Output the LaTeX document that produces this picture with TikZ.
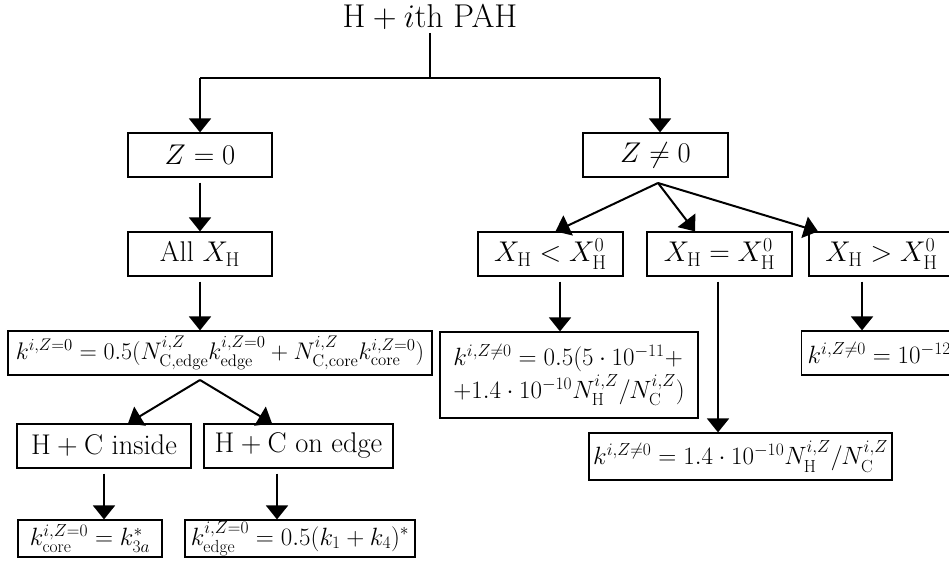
\RequirePackage{fix-cm}
\documentclass[tikz,border=0pt]{standalone}
\usepackage{amsmath}
\usetikzlibrary{arrows.meta,calc}
\begin{document}
\begin{tikzpicture}[x=1pt,y=-1pt,
  box/.style={draw,line width=1.2pt,inner sep=0pt,minimum height=44pt,font=\fontsize{28.5}{34}\selectfont},
  fbox/.style={draw,line width=1.2pt,inner sep=0pt,font=\fontsize{25}{30}\selectfont},
  arr/.style={line width=2pt,-{Triangle[length=14pt,width=22pt]}},
  ln/.style={line width=2pt}]
\useasboundingbox (0,0) rectangle (949,569);
\clip (0,0) rectangle (949,569);
% title
\node[font=\fontsize{33}{40}\selectfont,inner sep=0pt,anchor=base] (title) at (430,28) {$\mathrm{H}+i$th PAH};
% left column
\node[box,minimum width=144pt] (Z0) at (200,155) {$Z=0$};
\node[box,minimum width=144pt] (AllX) at (200,254) {All $X_{\mathrm{H}}$};
\node[fbox,minimum width=424pt,minimum height=44pt,font=\fontsize{24}{29}\selectfont] (kZ0) at (220,353)
  {$k^{i,Z=0}=0.5(N^{i,Z}_{\mathrm{C,edge}}k^{i,Z=0}_{\mathrm{edge}}+N^{i,Z}_{\mathrm{C,core}}k^{i,Z=0}_{\mathrm{core}})$};
\node[box,minimum width=174pt] (HCin) at (104,446) {$\mathrm{H}+\mathrm{C}$ inside};
\node[box,minimum width=189pt] (HCedge) at (298.5,446) {$\mathrm{H}+\mathrm{C}$ on edge};
\node[fbox,minimum width=144pt,minimum height=37pt] (kcore) at (90,538.5) {$k^{i,Z=0}_{\mathrm{core}}=k^{*}_{3a}$};
\node[fbox,minimum width=230pt,minimum height=37pt] (kedge) at (300,538.5) {$k^{i,Z=0}_{\mathrm{edge}}=0.5(k_1+k_4)^{*}$};
% right column
\node[box,minimum width=145pt] (Zn0) at (655.5,155) {$Z\neq0$};
\node[box,minimum width=145pt] (Xlt) at (550.5,254) {$X_{\mathrm{H}}<X^0_{\mathrm{H}}$};
\node[box,minimum width=145pt] (Xeq) at (719.5,254) {$X_{\mathrm{H}}=X^0_{\mathrm{H}}$};
\node[box,minimum width=145pt] (Xgt) at (881.5,254) {$X_{\mathrm{H}}>X^0_{\mathrm{H}}$};
\node[fbox,minimum width=258pt,minimum height=86pt,align=left] (k2) at (569,375)
  {$k^{i,Z\neq0}=0.5(5\cdot10^{-11}+$\\[2pt]$+1.4\cdot10^{-10}N^{i,Z}_{\mathrm{H}}/N^{i,Z}_{\mathrm{C}})$};
\node[fbox,minimum height=44pt,inner xsep=6pt,anchor=west] (k10) at (801,353) {$k^{i,Z\neq0}=10^{-12}$};
\node[fbox,minimum width=303pt,minimum height=47pt] (kb) at (740.5,456.5)
  {$k^{i,Z\neq0}=1.4\cdot10^{-10}N^{i,Z}_{\mathrm{H}}/N^{i,Z}_{\mathrm{C}}$};
% top connectors
\coordinate (j) at (430,78);
\coordinate (jl) at (200,78);
\coordinate (jr) at (660,78);
\draw[ln] ($(title.base)+(0,5)$) -- (j);
\draw[ln] (jl) -- (jr);
\draw[arr] (jl) -- (jl |- Z0.north);
\draw[arr] (jr) -- (jr |- Zn0.north);
% left connectors
\draw[arr] ($(Z0.south)+(0,5)$) -- (AllX.north);
\draw[arr] ($(AllX.south)+(0,5)$) -- (AllX.south |- kZ0.north);
\coordinate (a1) at (200,380);
\draw[arr] (a1) -- ($(HCin.north)+(24,0)$);
\draw[arr] (a1) -- ($(HCedge.north)+(-26.5,0)$);
\draw[arr] ($(HCin.south)+(0,5)$) -- (HCin.south |- kcore.north);
\draw[arr] ($(HCedge.south)+(-21.5,5)$) coordinate (t1) -- (t1 |- kedge.north);
% right connectors
\coordinate (a2) at (658,183);
\draw[arr] (a2) -- ($(Xlt.north)+(5,0)$);
\draw[arr] (a2) -- ($(Xeq.north)+(-24.5,0)$);
\draw[arr] (a2) -- ($(Xgt.north)+(-63.5,0)$);
\draw[arr] ($(Xlt.south)+(9.5,5)$) coordinate (t2) -- (t2 |- k2.north);
\draw[arr] ($(Xeq.south)+(-1.5,5)$) coordinate (t3) -- (t3 |- kb.north);
\draw[arr] ($(Xgt.south)+(-19.5,5)$) coordinate (t4) -- (t4 |- k10.north);
\end{tikzpicture}
\end{document}
